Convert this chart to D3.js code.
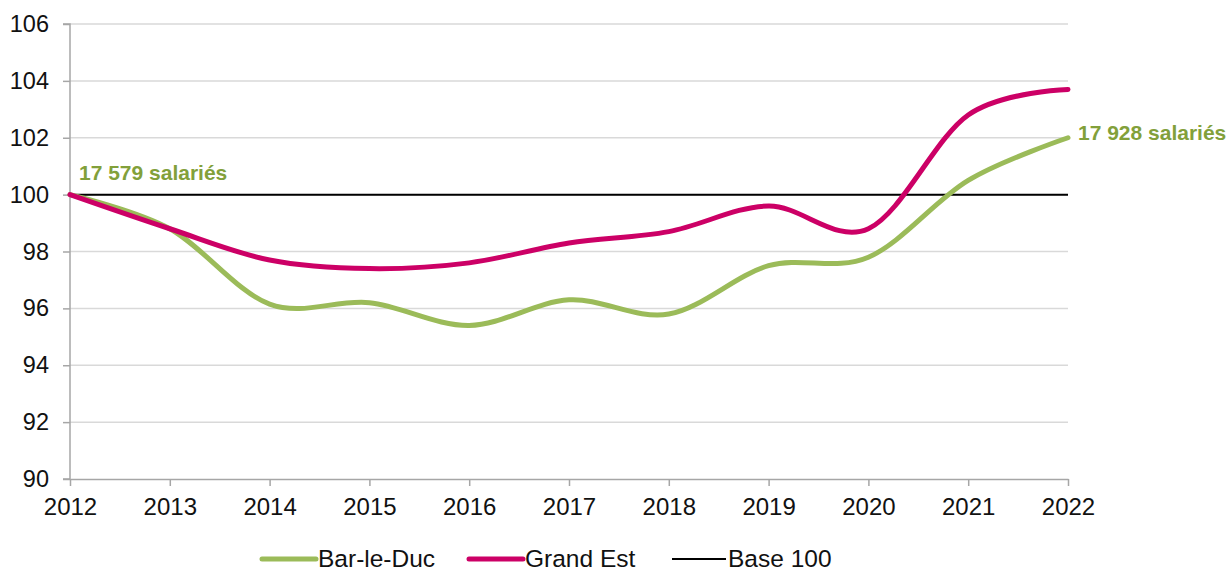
<!DOCTYPE html>
<html>
<head>
<meta charset="utf-8">
<script src="https://d3js.org/d3.v7.min.js"></script>
<style>
  body { margin: 0; background: #fff; }
  text { font-family: "Liberation Sans", Arial, sans-serif; }
</style>
</head>
<body>
<div id="chart-container"></div>
<script>
// Data
const years = [2012, 2013, 2014, 2015, 2016, 2017, 2018, 2019, 2020, 2021, 2022];
const barLeDuc = [100, 98.8, 96.15, 96.2, 95.4, 96.3, 95.8, 97.5, 97.8, 100.5, 102.0];
const grandEst = [100, 98.8, 97.7, 97.4, 97.6, 98.3, 98.7, 99.6, 98.8, 102.8, 103.7];
const yTicks = [90, 92, 94, 96, 98, 100, 102, 104, 106];
const seriesNames = ["Bar-le-Duc", "Grand Est", "Base 100"];
const startLabel = "17 579 salariés";
const endLabel = "17 928 salariés";

// Chart Sizing
const W = 1229, H = 572;
const margin = { top: 24, right: 161, bottom: 93, left: 70 };
const WIDTH = W - margin.left - margin.right;
const HEIGHT = H - margin.top - margin.bottom;

const colors = { green: "#9bbb59", pink: "#cc0066", text: "#82a03a", grid: "#d9d9d9", axis: "#a6a6a6" };

const svg = d3.select("#chart-container")
    .append("svg")
        .attr("width", W)
        .attr("height", H);

const plot = svg.append("g")
    .attr("transform", `translate(${margin.left}, ${margin.top})`);

const x = d3.scaleLinear().domain([2012, 2022]).range([0, WIDTH]);
const y = d3.scaleLinear().domain([90, 106]).range([HEIGHT, 0]);

// Grid lines
plot.append("g")
    .selectAll("line")
    .data(yTicks.filter(d => d > 90))
    .enter()
    .append("line")
        .attr("x1", 0)
        .attr("x2", WIDTH)
        .attr("y1", d => y(d))
        .attr("y2", d => y(d))
        .attr("stroke", colors.grid)
        .attr("stroke-width", 1.5);

// Y axis
const yAxis = plot.append("g")
    .call(d3.axisLeft(y).tickValues(yTicks).tickSize(7).tickPadding(14));
yAxis.selectAll("path, line").attr("stroke", colors.axis).attr("stroke-width", 1.5);
yAxis.selectAll("text").attr("font-size", 23.5).attr("fill", "#111");
yAxis.select(".domain").attr("d", `M-7,${HEIGHT}H0V0H-7`);

// X axis
const xAxis = plot.append("g")
    .attr("transform", `translate(0, ${HEIGHT})`)
    .call(d3.axisBottom(x).tickValues(years).tickFormat(d3.format("d")).tickSize(7).tickSizeOuter(0).tickPadding(12));
xAxis.selectAll("path, line").attr("stroke", colors.axis).attr("stroke-width", 1.5);
xAxis.selectAll("text").attr("font-size", 24).attr("fill", "#111");

// Base 100
plot.append("line")
    .attr("x1", x(2012))
    .attr("x2", x(2022))
    .attr("y1", y(100))
    .attr("y2", y(100))
    .attr("stroke", "#000")
    .attr("stroke-width", 2);

// Series lines
const line = d3.line()
    .x((d, i) => x(years[i]))
    .y(d => y(d))
    .curve(d3.curveCardinal.tension(0));

plot.append("path")
    .attr("d", line(barLeDuc))
    .attr("fill", "none")
    .attr("stroke", colors.green)
    .attr("stroke-width", 5)
    .attr("stroke-linecap", "round");

plot.append("path")
    .attr("d", line(grandEst))
    .attr("fill", "none")
    .attr("stroke", colors.pink)
    .attr("stroke-width", 5)
    .attr("stroke-linecap", "round");

// Annotations
plot.append("text")
    .attr("x", x(2012) + 9)
    .attr("y", y(100) - 15)
    .attr("font-size", 21)
    .attr("font-weight", "bold")
    .attr("fill", colors.text)
    .text(startLabel);

plot.append("text")
    .attr("x", x(2022) + 10)
    .attr("y", y(barLeDuc[barLeDuc.length - 1]) + 2)
    .attr("font-size", 21)
    .attr("font-weight", "bold")
    .attr("fill", colors.text)
    .text(endLabel);

// Legend
const legendItems = [
    { name: seriesNames[0], color: colors.green, width: 5, x: 262 },
    { name: seriesNames[1], color: colors.pink, width: 5, x: 469 },
    { name: seriesNames[2], color: "#000", width: 2, x: 672 }
];
const legend = svg.append("g").attr("transform", "translate(0, 559)");
legendItems.forEach(item => {
    legend.append("line")
        .attr("x1", item.x)
        .attr("x2", item.x + 54)
        .attr("y1", 0)
        .attr("y2", 0)
        .attr("stroke", item.color)
        .attr("stroke-width", item.width)
        .attr("stroke-linecap", item.width > 2 ? "round" : "butt");
    legend.append("text")
        .attr("x", item.x + 56)
        .attr("y", 8)
        .attr("font-size", 24.5)
        .attr("fill", "#111")
        .text(item.name);
});
</script>
</body>
</html>
